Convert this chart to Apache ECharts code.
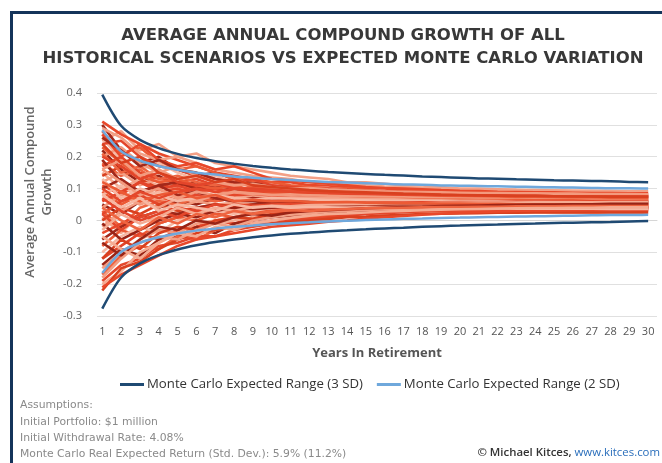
<!DOCTYPE html>
<html><head><meta charset="utf-8">
<script src="https://cdn.jsdelivr.net/npm/echarts@6/dist/echarts.min.js"></script>
<style>html,body{margin:0;padding:0;background:#fff}#c{width:662px;height:463px}</style>
</head><body><div id="c"></div>
<script>
// Years in retirement
const years = [1,2,3,4,5,6,7,8,9,10,11,12,13,14,15,16,17,18,19,20,21,22,23,24,25,26,27,28,29,30];
const yTicks = [-30,-20,-10,0,10,20,30,40]; // percent
// Monte Carlo expected range (percent)
const mc3Upper = [39.5,29.7,25.3,22.7,20.9,19.6,18.6,17.8,17.1,16.5,16.0,15.6,15.2,14.9,14.6,14.3,14.1,13.8,13.6,13.4,13.2,13.1,12.9,12.8,12.6,12.5,12.4,12.3,12.1,12.0];
const mc3Lower = [-27.7,-17.9,-13.5,-10.9,-9.1,-7.8,-6.8,-6.0,-5.3,-4.7,-4.2,-3.8,-3.4,-3.1,-2.8,-2.5,-2.3,-2.0,-1.8,-1.6,-1.4,-1.3,-1.1,-1.0,-0.8,-0.7,-0.6,-0.5,-0.3,-0.2];
const mc2Upper = [28.3,21.7,18.8,17.1,15.9,15.0,14.4,13.8,13.4,13.0,12.7,12.4,12.1,11.9,11.7,11.5,11.3,11.2,11.0,10.9,10.8,10.7,10.6,10.5,10.4,10.3,10.2,10.1,10.1,10.0];
const mc2Lower = [-16.5,-9.9,-7.0,-5.3,-4.1,-3.2,-2.6,-2.0,-1.6,-1.2,-0.9,-0.6,-0.3,-0.1,0.1,0.3,0.5,0.6,0.8,0.9,1.0,1.1,1.2,1.3,1.4,1.5,1.6,1.7,1.7,1.8];
// Historical scenarios (percent)
const h01 = [25,28,22,24,20,21,18,17,16,15,14,13.5,13,12,12,11.5,11,11,10.5,10,10,9.8,9.6,9.5,9.4,9.3,9.2,9.2,9.1,9];
const h02 = [31,27,24,21,19,17,15,14,13,12,12,11,11,10.5,10,10,9.5,9.2,9,9,8.8,8.7,8.6,8.5,8.5,8.4,8.4,8.3,8.3,8.2];
const h03 = [30,22,18,20,16,14,15,13,12,11,10,9,9.5,9,8.5,8,7.8,7.5,7.2,7,7,6.8,6.7,6.6,6.5,6.5,6.4,6.4,6.3,6.2];
const h04 = [28,21,23,18,16,17,15,13,12.5,12,11,10.5,10,10,9.5,9,9,8.8,8.6,8.5,8.4,8.3,8.2,8.1,8,8,8,7.9,7.9,7.8];
const h05 = [26,19,16,18,15,13,14,12,11,11,10,9.5,9.5,9,9,8.5,8.4,8.2,8,7.9,7.8,7.6,7.5,7.4,7.4,7.3,7.3,7.2,7.2,7.1];
const h06 = [24,25,20,17,16,14,13,12,13,11,10.5,10,10,9.6,9.2,9,8.8,8.5,8.5,8.3,8.2,8.1,8,8,7.9,7.8,7.8,7.7,7.7,7.6];
const h07 = [22,16,12,14,11,12,10,9,9.5,8.5,8,8,7.5,7,7.2,7,6.8,6.5,6.4,6.2,6,6,5.9,5.8,5.8,5.7,5.6,5.6,5.5,5.5];
const h08 = [20,23,18,15,17,14,12,13,11,10,10,9,9,8.6,8.4,8.2,8,7.8,7.6,7.5,7.4,7.3,7.2,7.1,7,7,6.9,6.9,6.8,6.8];
const h09 = [18,14,16,12,10,11,9,10,9,8.5,8.5,8,7.6,7.4,7.2,7,7,6.8,6.8,6.6,6.5,6.5,6.4,6.4,6.3,6.3,6.2,6.2,6.2,6.1];
const h10 = [17,20,15,13,12,13,11,10,10,9.5,9,8.8,8.5,8.2,8,8,7.8,7.6,7.5,7.4,7.3,7.2,7.2,7.1,7,7,7,6.9,6.9,6.8];
const h11 = [15,10,13,11,9,8,10,9,8,7.5,7.5,7,6.8,6.6,6.5,6.2,6,6,5.8,5.7,5.6,5.5,5.5,5.4,5.3,5.3,5.2,5.2,5.2,5.1];
const h12 = [14,17,13,10,12,10,9,8,8.5,7.5,7,7,6.5,6.4,6.2,6,5.8,5.6,5.5,5.4,5.3,5.2,5.1,5,5,4.9,4.9,4.8,4.8,4.7];
const h13 = [12,15,11,13,10,9,9.5,8.5,8,8,7.6,7.2,7,7,6.8,6.6,6.5,6.5,6.4,6.3,6.2,6.2,6.1,6.1,6,6,6,5.9,5.9,5.9];
const h14 = [11,8,12,9,10,8,7,8,7,6.5,6.5,6,6,5.8,5.6,5.5,5.4,5.3,5.2,5.1,5,5,4.9,4.9,4.8,4.8,4.7,4.7,4.6,4.6];
const h15 = [10,13,9,11,12,10,11,10,9.5,9,9.2,8.8,8.5,8.4,8.2,8.2,8,8,7.9,7.8,7.8,7.7,7.6,7.6,7.5,7.5,7.5,7.4,7.4,7.4];
const h16 = [9,5,8,6,8,7,6,7,6.5,6,5.8,5.5,5.5,5.3,5.1,5,4.8,4.8,4.6,4.5,4.5,4.4,4.3,4.3,4.2,4.2,4.1,4.1,4,4];
const h17 = [8,11,7,9,7,8,7.5,8,7,7,6.8,6.6,6.5,6.4,6.2,6.2,6,6,6,5.9,5.8,5.8,5.7,5.7,5.7,5.6,5.6,5.6,5.5,5.5];
const h18 = [6,9,12,10,11,9,10,9,8.8,9,8.6,8.4,8.2,8,8,7.8,7.8,7.6,7.6,7.5,7.4,7.4,7.3,7.3,7.2,7.2,7.2,7.1,7.1,7.1];
const h19 = [5,2,6,4,6,5,7,6,6,5.5,5.8,5.5,5.2,5.2,5,5,4.8,4.8,4.7,4.6,4.6,4.5,4.5,4.4,4.4,4.3,4.3,4.3,4.2,4.2];
const h20 = [4,8,5,7,4,6,5,5.5,5,4.8,4.5,4.5,4.2,4,4,3.8,3.8,3.6,3.6,3.5,3.5,3.4,3.4,3.3,3.3,3.3,3.2,3.2,3.2,3.1];
const h21 = [3,-2,4,6,5,7,6,7,6.5,6.2,6,6,5.8,5.8,5.6,5.6,5.5,5.4,5.4,5.3,5.3,5.2,5.2,5.2,5.1,5.1,5.1,5,5,5];
const h22 = [2,6,8,5,7,8,7,8,7.5,7.5,7.2,7,7,6.8,6.8,6.6,6.6,6.5,6.5,6.4,6.4,6.3,6.3,6.3,6.2,6.2,6.2,6.2,6.1,6.1];
const h23 = [1,-4,2,0,3,2,4,3,3.5,3,3.2,3,3,2.9,2.8,2.8,2.7,2.7,2.6,2.6,2.6,2.5,2.5,2.5,2.4,2.4,2.4,2.4,2.3,2.3];
const h24 = [0,4,2,5,3,4,5,4.5,5,4.8,5,4.8,4.8,4.6,4.6,4.5,4.5,4.4,4.4,4.3,4.3,4.3,4.2,4.2,4.2,4.1,4.1,4.1,4,4];
const h25 = [-2,3,6,4,7,6,8,7,7.5,7,7.2,7,7,6.9,6.8,6.8,6.7,6.6,6.6,6.5,6.5,6.5,6.4,6.4,6.4,6.3,6.3,6.3,6.3,6.2];
const h26 = [-4,-1,2,-1,1,3,2,3,2.5,3,3.5,3.2,3.5,3.4,3.4,3.5,3.4,3.4,3.3,3.3,3.3,3.2,3.2,3.2,3.2,3.1,3.1,3.1,3.1,3];
const h27 = [-6,-2,1,3,2,4,5,4,5,5.5,5.2,5.5,5.4,5.6,5.5,5.6,5.6,5.6,5.5,5.5,5.5,5.5,5.4,5.4,5.4,5.4,5.3,5.3,5.3,5.3];
const h28 = [-8,-3,-5,-1,1,0,2,1,2.5,3,3,3.5,3.4,3.6,3.8,3.8,3.9,4,4,4,4,4.1,4.1,4.1,4.1,4.1,4.1,4.1,4.1,4.1];
const h29 = [-10,-5,-2,-4,0,1,3,2,3,4,3.8,4,4.2,4.4,4.5,4.6,4.6,4.7,4.7,4.8,4.8,4.8,4.8,4.8,4.8,4.8,4.8,4.8,4.8,4.8];
const h30 = [-12,-8,-4,-6,-3,-2,0,-1,1,1.5,2,2,2.3,2.5,2.6,2.8,2.9,3,3,3.1,3.1,3.2,3.2,3.2,3.2,3.2,3.2,3.2,3.2,3.2];
const h31 = [-14,-9,-11,-6,-5,-2,-4,-1,0,1,1.5,2,2.5,2.8,3,3.2,3.4,3.5,3.6,3.7,3.8,3.8,3.9,3.9,4,4,4,4,4,4];
const h32 = [-15,-10,-6,-3,-4,-1,0,1,2,2.5,3,3.3,3.6,3.9,4.2,4.4,4.6,4.8,5,5.1,5.2,5.3,5.4,5.5,5.5,5.6,5.6,5.7,5.7,5.8];
const h33 = [-17,-11,-8,-9,-5,-6,-3,-2,-1,0,0.5,1,1.5,2,2.3,2.6,2.8,3,3.2,3.4,3.5,3.6,3.7,3.8,3.9,4,4,4.1,4.1,4.2];
const h34 = [-19,-14,-12,-8,-7,-5,-5,-3,-2,-1,0,0.5,1,1.5,2,2.3,2.6,2.9,3.1,3.3,3.5,3.6,3.7,3.8,3.9,4,4.1,4.1,4.2,4.2];
const h35 = [-20,-16,-10,-7,-4,-3,-1,0,1,1.5,2,2.5,3,3.3,3.6,3.8,4,4.2,4.3,4.4,4.5,4.6,4.7,4.7,4.8,4.8,4.9,4.9,5,5];
const h36 = [-22,-15,-13,-9,-6,-4,-3,-2,-1.5,-1,-0.5,0,0.5,1,1.2,1.5,1.8,2,2.1,2.2,2.3,2.4,2.4,2.5,2.5,2.5,2.5,2.5,2.5,2.5];
const h37 = [29,26,21,19,20,18,16,15,14,13.5,13,12,11.5,11.2,11,10.6,10.4,10.2,10,9.8,9.7,9.6,9.5,9.4,9.4,9.3,9.3,9.2,9.2,9.2];
const h38 = [27,20,24,19,17,18,16,17,15,13,12.5,12,11.5,11,10.5,10.2,10,9.8,9.5,9.3,9.2,9,8.9,8.8,8.8,8.7,8.6,8.6,8.5,8.5];
const h39 = [19,12,9,11,8,9,7,6,7,6.5,6,6.2,6,5.8,5.8,5.6,5.6,5.5,5.5,5.4,5.4,5.4,5.3,5.3,5.3,5.2,5.2,5.2,5.2,5.2];
const h40 = [23,18,14,12,13,11,10,11,9.5,9,8.5,8.2,8,7.8,7.6,7.5,7.4,7.2,7.1,7,7,6.9,6.8,6.8,6.7,6.7,6.6,6.6,6.6,6.5];
const h41 = [13,7,10,8,6,7,8,7,6.5,7,6.8,6.6,6.4,6.4,6.3,6.2,6.2,6.1,6,6,6,5.9,5.9,5.9,5.8,5.8,5.8,5.8,5.7,5.7];
const h42 = [7,3,0,2,4,3,5,4,4.5,4,4.2,4,3.9,3.9,3.8,3.8,3.7,3.7,3.7,3.6,3.6,3.6,3.6,3.5,3.5,3.5,3.5,3.5,3.5,3.4];
const h43 = [-1,-6,-3,0,2,1,3,4,3.5,4,4.5,4.3,4.6,4.8,5,5,5.1,5.2,5.3,5.3,5.4,5.4,5.5,5.5,5.5,5.6,5.6,5.6,5.6,5.6];
const h44 = [16,12,8,10,7,9,8,9,8.5,8,8.2,8,7.8,7.7,7.6,7.5,7.5,7.4,7.3,7.3,7.2,7.2,7.2,7.1,7.1,7.1,7,7,7,7];
const h45 = [21,15,17,13,14,12,11,12,10.5,10,9.6,9.2,9,8.8,8.5,8.3,8.1,8,7.8,7.7,7.6,7.5,7.4,7.4,7.3,7.2,7.2,7.1,7.1,7];
const h46 = [2,-3,1,3,1,4,3,5,4.6,5,5.2,5,5.3,5.4,5.5,5.6,5.6,5.7,5.7,5.8,5.8,5.8,5.9,5.9,5.9,5.9,6,6,6,6];
const h47 = [-3,2,-1,1,4,2,4,3,4.2,4.6,4.4,4.8,5,5.1,5.2,5.3,5.4,5.4,5.5,5.5,5.6,5.6,5.6,5.7,5.7,5.7,5.7,5.8,5.8,5.8];
const h48 = [-12,-6,-9,-4,-2,-3,0,1,0.5,2,2.5,3,3.2,3.5,3.7,3.9,4.1,4.2,4.3,4.4,4.5,4.6,4.6,4.7,4.7,4.8,4.8,4.8,4.9,4.9];
const h49 = [-18,-12,-7,-5,-6,-3,-1,-2,0,1,1.8,2.2,2.8,3,3.3,3.5,3.7,3.9,4,4.1,4.2,4.3,4.3,4.4,4.4,4.5,4.5,4.5,4.6,4.6];
const h50 = [-21,-17,-14,-11,-8,-6,-5,-4,-3,-2,-1.5,-1,-0.4,0,0.6,1,1.4,1.8,2.1,2.4,2.6,2.8,3,3.1,3.2,3.3,3.4,3.5,3.5,3.6];
const h51 = [26,22,17,19,16,15,13,12,11.5,10.5,10,9.8,9.5,9.2,9,8.8,8.6,8.5,8.3,8.2,8.1,8,7.9,7.9,7.8,7.8,7.7,7.7,7.6,7.6];
const h52 = [12,9,6,8,9,7,8,6,6.5,6,6.2,5.8,5.7,5.8,5.6,5.5,5.4,5.4,5.3,5.3,5.2,5.2,5.1,5.1,5.1,5,5,5,5,4.9];
const h53 = [8,4,7,3,5,4,3,5,4,4.5,4,4.2,4.1,4,4,3.9,3.9,3.9,3.8,3.8,3.8,3.8,3.7,3.7,3.7,3.7,3.7,3.6,3.6,3.6];
const h54 = [20,17,13,15,12,11,12,10,10,9.5,9.8,9.4,9,8.8,8.6,8.5,8.4,8.3,8.2,8.1,8,8,7.9,7.9,7.8,7.8,7.8,7.7,7.7,7.7];
const h55 = [-7,-11,-6,-2,-3,0,-1,1,2,1.5,2.5,3,3.2,3.5,3.8,4,4.2,4.3,4.5,4.6,4.7,4.8,4.9,5,5,5.1,5.1,5.2,5.2,5.2];
const h56 = [16,19,14,16,13,14,12,11,11.5,10.5,10,10.2,9.8,9.5,9.3,9.1,9,8.9,8.8,8.7,8.6,8.6,8.5,8.5,8.4,8.4,8.3,8.3,8.3,8.2];
const h57 = [4,0,-3,1,-1,2,1,3,2,2.8,3.2,3,3.4,3.6,3.8,3.9,4,4.1,4.2,4.2,4.3,4.3,4.4,4.4,4.4,4.5,4.5,4.5,4.5,4.5];
const h58 = [10,6,9,7,9,10,9,10,9.4,9.2,9,8.7,8.6,8.4,8.3,8.2,8.1,8,7.9,7.9,7.8,7.8,7.7,7.7,7.6,7.6,7.6,7.5,7.5,7.5];
const h59 = [-5,-9,-12,-7,-4,-5,-2,-3,-1,0,0.8,1.5,2,2.2,2.5,2.8,3,3.2,3.4,3.5,3.6,3.7,3.8,3.9,3.9,4,4,4.1,4.1,4.1];
const h60 = [24,18,20,15,13,14,12,13,11,10.5,10,9.5,9.2,9,8.8,8.6,8.4,8.3,8.1,8,7.9,7.8,7.7,7.7,7.6,7.5,7.5,7.4,7.4,7.4];
const historical = [h01,h02,h03,h04,h05,h06,h07,h08,h09,h10,h11,h12,h13,h14,h15,h16,h17,h18,h19,h20,h21,h22,h23,h24,h25,h26,h27,h28,h29,h30,
  h31,h32,h33,h34,h35,h36,h37,h38,h39,h40,h41,h42,h43,h44,h45,h46,h47,h48,h49,h50,h51,h52,h53,h54,h55,h56,h57,h58,h59,h60];

const histPalette = ['#f3a086','#e8482a','#a3291b','#ec5a35','#f7b8a3','#e3452a','#9a2416','#f39a7e','#ee6440','#e4472b','#f5ab92','#d9401f'];
const navy = '#1f4a73', lightBlue = '#6fa8dc';

const series = historical.map((arr, i) => ({
  type: 'line', name: 'Historical ' + (i + 1),
  data: years.map((y, j) => [y, arr[j]]),
  showSymbol: false, silent: true, z: 2,
  lineStyle: { width: 2.6, color: histPalette[i % histPalette.length] }
}));
const mcLine = (name, arr, color) => ({
  type: 'line', name, data: years.map((y, j) => [y, arr[j]]),
  showSymbol: false, silent: true, z: 5, smooth: 0.3,
  itemStyle: { color }, lineStyle: { width: 2.5, color }
});
series.push(mcLine('Monte Carlo Expected Range (3 SD)', mc3Upper, navy));
series.push(mcLine('Monte Carlo Expected Range (2 SD)', mc2Upper, lightBlue));
series.push(mcLine('Monte Carlo Expected Range (3 SD)', mc3Lower, navy));
series.push(mcLine('Monte Carlo Expected Range (2 SD)', mc2Lower, lightBlue));

const FONT = "'Open Sans', 'Noto Sans', sans-serif";
const TFONT = "'DejaVu Sans', sans-serif";
const chart = echarts.init(document.getElementById('c'));
chart.setOption({
  animation: false,
  backgroundColor: '#fff',
  textStyle: { fontFamily: FONT },
  grid: { left: 97, top: 93, width: 560, height: 223, containLabel: false },
  xAxis: {
    type: 'value', min: 0.72, max: 30.47,
    name: 'Years In Retirement', nameLocation: 'middle', nameGap: 31,
    nameTextStyle: { fontSize: 13, fontWeight: 'bold', color: '#555', fontFamily: FONT },
    axisLine: { show: true, lineStyle: { color: '#d6d6d6' } },
    axisTick: { show: false },
    splitLine: { show: false },
    axisLabel: { customValues: years, color: '#555', fontSize: 11, margin: 10, fontFamily: FONT }
  },
  yAxis: {
    type: 'value', min: yTicks[0], max: yTicks[yTicks.length - 1], interval: 10,
    axisLine: { show: false }, axisTick: { show: false },
    splitLine: { lineStyle: { color: '#e0e0e0', width: 1 } },
    axisLabel: { color: '#666', fontSize: 11, margin: 15, fontFamily: FONT,
      formatter: v => String(Math.round(v) / 100) }
  },
  legend: {
    left: 115, top: 373, itemWidth: 24, itemHeight: 3, itemGap: 14, icon: 'rect',
    data: ['Monte Carlo Expected Range (3 SD)', 'Monte Carlo Expected Range (2 SD)'],
    textStyle: { fontSize: 13.2, color: '#333', fontFamily: FONT, padding: [0, 0, 0, -2] }
  },
  graphic: [
    { type: 'rect', shape: { x: 11.5, y: 12.5, width: 700, height: 520 }, silent: true,
      style: { fill: 'none', stroke: '#14345a', lineWidth: 3 } },
    { type: 'text', x: 343, y: 36, silent: true,
      style: { text: 'AVERAGE ANNUAL COMPOUND GROWTH OF ALL', fill: '#383838', font: "bold 16.5px " + TFONT, textAlign: 'center', textVerticalAlign: 'middle' } },
    { type: 'text', x: 343, y: 59, silent: true,
      style: { text: 'HISTORICAL SCENARIOS VS EXPECTED MONTE CARLO VARIATION', fill: '#383838', font: "bold 16.5px " + TFONT, textAlign: 'center', textVerticalAlign: 'middle' } },
    { type: 'text', x: 38.5, y: 192, rotation: Math.PI / 2, silent: true,
      style: { text: 'Average Annual Compound\nGrowth', fill: '#666', font: "600 13px " + FONT, textAlign: 'center', textVerticalAlign: 'middle', lineHeight: 17 } },
    { type: 'text', x: 20, y: 405, silent: true, style: { text: 'Assumptions:', fill: '#8a8a8a', font: "10.8px " + TFONT, textVerticalAlign: 'middle' } },
    { type: 'text', x: 20, y: 422, silent: true, style: { text: 'Initial Portfolio: $1 million', fill: '#8a8a8a', font: "10.8px " + TFONT, textVerticalAlign: 'middle' } },
    { type: 'text', x: 20, y: 438, silent: true, style: { text: 'Initial Withdrawal Rate: 4.08%', fill: '#8a8a8a', font: "10.8px " + TFONT, textVerticalAlign: 'middle' } },
    { type: 'text', x: 20, y: 454, silent: true, style: { text: 'Monte Carlo Real Expected Return (Std. Dev.): 5.9% (11.2%)', fill: '#8a8a8a', font: "10.8px " + TFONT, textVerticalAlign: 'middle' } },
    { type: 'text', x: 660, y: 453, silent: true,
      style: { text: '{a|© Michael Kitces, }{b|www.kitces.com}', textAlign: 'right', textVerticalAlign: 'middle',
        rich: { a: { fill: '#333', font: "600 11.4px " + FONT }, b: { fill: '#2a6ebb', font: "11.4px " + FONT, textDecoration: 'underline' } } } }
  ],
  series
});
</script></body></html>
